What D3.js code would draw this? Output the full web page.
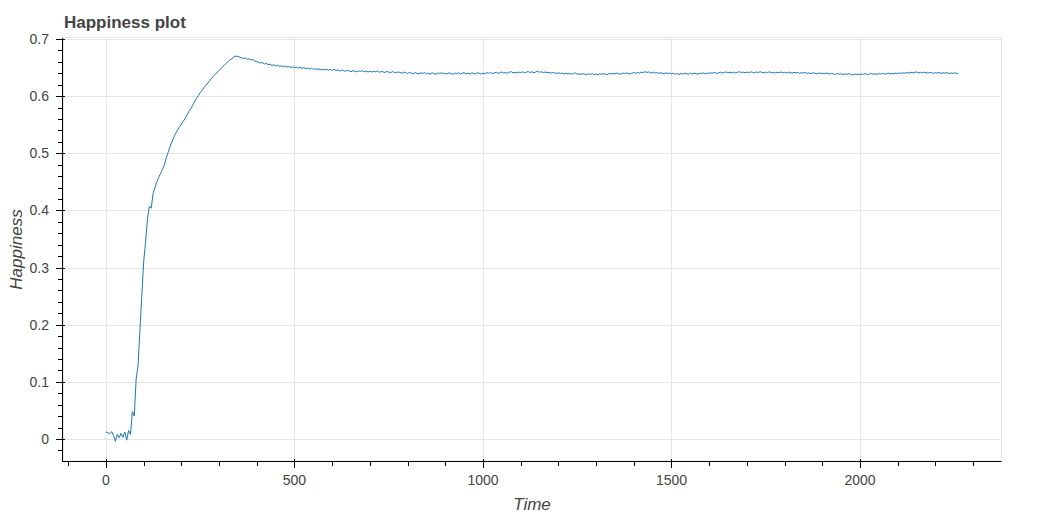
<!DOCTYPE html>
<html>
<head>
<meta charset="utf-8">
<script src="https://cdn.jsdelivr.net/npm/d3@7"></script>
<style>
  html, body { margin: 0; padding: 0; background: #fff; }
  svg { display: block; font-family: "Liberation Sans", Arial, Helvetica, sans-serif; }
</style>
</head>
<body>
<svg id="chart" width="1039" height="519"></svg>
<script>
// ---- data ----
const title = "Happiness plot";
const xLabel = "Time";
const yLabel = "Happiness";
const timeStart = 0;
const timeStep = 5;
const happiness = [
  0.012, 0.011, 0.009, 0.013, 0.006, -0.004, 0.008, 0.002, 0.010, 0.003, 0.012, -0.002, 0.015, 0.008, 0.048, 0.040, 0.105, 0.128, 0.190, 0.250,
  0.310, 0.345, 0.385, 0.407, 0.404, 0.430, 0.440, 0.450, 0.458, 0.465, 0.472, 0.480, 0.492, 0.502, 0.512, 0.520, 0.528, 0.535, 0.541, 0.546,
  0.551, 0.556, 0.561, 0.567, 0.573, 0.578, 0.584, 0.590, 0.596, 0.601, 0.606, 0.610, 0.615, 0.619, 0.623, 0.627, 0.631, 0.635, 0.638, 0.642,
  0.645, 0.648, 0.652, 0.655, 0.658, 0.661, 0.664, 0.666, 0.669, 0.670, 0.6695, 0.6680, 0.6672, 0.6660, 0.6668, 0.6645, 0.6652, 0.6633, 0.6640, 0.6615,
  0.6605, 0.6592, 0.6580, 0.6588, 0.6562, 0.6574, 0.6551, 0.6560, 0.6538, 0.6549, 0.6530, 0.6541, 0.6522, 0.6530, 0.6515, 0.6527, 0.6508, 0.6519, 0.6502, 0.6512,
  0.6498, 0.6510, 0.6492, 0.6503, 0.6485, 0.6497, 0.6480, 0.6491, 0.6474, 0.6487, 0.6470, 0.6482, 0.6466, 0.6478, 0.6460, 0.6473, 0.6458, 0.6469, 0.6455, 0.6466,
  0.6452, 0.6468, 0.6447, 0.6461, 0.6438, 0.6455, 0.6449, 0.6433, 0.6452, 0.6440, 0.6428, 0.6446, 0.6437, 0.6425, 0.6443, 0.6431, 0.6446, 0.6427, 0.6439, 0.6422,
  0.6438, 0.6421, 0.6435, 0.6427, 0.6442, 0.6418, 0.6432, 0.6424, 0.6415, 0.6433, 0.6420, 0.6411, 0.6429, 0.6417, 0.6408, 0.6425, 0.6413, 0.6402, 0.6421, 0.6410,
  0.6398, 0.6417, 0.6403, 0.6392, 0.6412, 0.6400, 0.6388, 0.6409, 0.6396, 0.6414, 0.6390, 0.6402, 0.6385, 0.6408, 0.6396, 0.6383, 0.6405, 0.6393, 0.6411, 0.6389,
  0.6402, 0.6387, 0.6409, 0.6395, 0.6381, 0.6404, 0.6392, 0.6410, 0.6386, 0.6399, 0.6413, 0.6390, 0.6402, 0.6384, 0.6407, 0.6396, 0.6389, 0.6411, 0.6398, 0.6386,
  0.6403, 0.6391, 0.6412, 0.6400, 0.6417, 0.6395, 0.6408, 0.6420, 0.6399, 0.6411, 0.6424, 0.6405, 0.6416, 0.6401, 0.6419, 0.6428, 0.6407, 0.6418, 0.6404, 0.6421,
  0.6412, 0.6425, 0.6408, 0.6420, 0.6431, 0.6414, 0.6426, 0.6410, 0.6422, 0.6436, 0.6418, 0.6427, 0.6411, 0.6423, 0.6408, 0.6419, 0.6402, 0.6415, 0.6406, 0.6397,
  0.6410, 0.6394, 0.6405, 0.6389, 0.6401, 0.6386, 0.6398, 0.6383, 0.6395, 0.6407, 0.6381, 0.6392, 0.6378, 0.6396, 0.6384, 0.6375, 0.6391, 0.6380, 0.6394, 0.6377,
  0.6388, 0.6376, 0.6392, 0.6381, 0.6395, 0.6384, 0.6378, 0.6397, 0.6386, 0.6400, 0.6389, 0.6403, 0.6391, 0.6383, 0.6405, 0.6394, 0.6408, 0.6396, 0.6387, 0.6402,
  0.6411, 0.6398, 0.6415, 0.6405, 0.6421, 0.6409, 0.6430, 0.6414, 0.6424, 0.6407, 0.6418, 0.6403, 0.6415, 0.6398, 0.6411, 0.6400, 0.6393, 0.6409, 0.6397, 0.6405,
  0.6389, 0.6401, 0.6383, 0.6395, 0.6380, 0.6397, 0.6386, 0.6402, 0.6391, 0.6384, 0.6399, 0.6388, 0.6404, 0.6393, 0.6385, 0.6401, 0.6395, 0.6408, 0.6390, 0.6403,
  0.6398, 0.6410, 0.6402, 0.6415, 0.6396, 0.6408, 0.6419, 0.6404, 0.6413, 0.6425, 0.6407, 0.6418, 0.6411, 0.6422, 0.6405, 0.6417, 0.6428, 0.6412, 0.6420, 0.6409,
  0.6421, 0.6410, 0.6426, 0.6414, 0.6406, 0.6423, 0.6412, 0.6429, 0.6415, 0.6407, 0.6420, 0.6413, 0.6426, 0.6409, 0.6418, 0.6404, 0.6419, 0.6411, 0.6423, 0.6408,
  0.6417, 0.6405, 0.6421, 0.6410, 0.6402, 0.6418, 0.6407, 0.6414, 0.6399, 0.6411, 0.6403, 0.6416, 0.6398, 0.6407, 0.6394, 0.6409, 0.6400, 0.6389, 0.6405, 0.6396,
  0.6401, 0.6390, 0.6406, 0.6393, 0.6385, 0.6399, 0.6387, 0.6380, 0.6396, 0.6384, 0.6392, 0.6377, 0.6389, 0.6381, 0.6394, 0.6379, 0.6372, 0.6388, 0.6378, 0.6385,
  0.6374, 0.6389, 0.6381, 0.6393, 0.6378, 0.6386, 0.6397, 0.6383, 0.6391, 0.6379, 0.6395, 0.6387, 0.6399, 0.6384, 0.6393, 0.6402, 0.6388, 0.6397, 0.6391, 0.6404,
  0.6393, 0.6406, 0.6398, 0.6410, 0.6401, 0.6414, 0.6403, 0.6419, 0.6407, 0.6415, 0.6424, 0.6409, 0.6418, 0.6406, 0.6421, 0.6412, 0.6403, 0.6416, 0.6408, 0.6400,
  0.6412, 0.6404, 0.6415, 0.6398, 0.6409, 0.6401, 0.6413, 0.6397, 0.6406, 0.6395, 0.6408, 0.6399, 0.6402
];
const xTicks = [0, 500, 1000, 1500, 2000];
const yTicks = [0, 0.1, 0.2, 0.3, 0.4, 0.5, 0.6, 0.7];
const xDomain = [-114, 2374];
const yDomain = [-0.0385, 0.70175];

// ---- layout ----
const W = 1039, H = 519;
const plot = { left: 63, right: 1001, top: 38, bottom: 461 };
const svg = d3.select("#chart");

const data = happiness.map((v, i) => ({ t: timeStart + i * timeStep, v }));

const x = d3.scaleLinear().domain(xDomain).range([plot.left, plot.right]);
const y = d3.scaleLinear().domain(yDomain).range([plot.bottom, plot.top]);

const grid = "#e5e5e5";
// grid lines
svg.append("g").selectAll("line").data(xTicks).join("line")
  .attr("x1", d => Math.round(x(d)) + 0.5).attr("x2", d => Math.round(x(d)) + 0.5)
  .attr("y1", plot.top).attr("y2", plot.bottom)
  .attr("stroke", grid).attr("stroke-width", 1);
svg.append("g").selectAll("line").data(yTicks).join("line")
  .attr("y1", d => Math.round(y(d)) + 0.5).attr("y2", d => Math.round(y(d)) + 0.5)
  .attr("x1", plot.left).attr("x2", plot.right)
  .attr("stroke", grid).attr("stroke-width", 1);
// outline
svg.append("rect")
  .attr("x", plot.left + 0.5).attr("y", plot.top - 0.5)
  .attr("width", plot.right - plot.left).attr("height", plot.bottom - plot.top + 0.5)
  .attr("fill", "none").attr("stroke", grid);

// line
svg.append("path")
  .datum(data)
  .attr("fill", "none")
  .attr("stroke", "#1f77b4")
  .attr("stroke-width", 1)
  .attr("d", d3.line().x(d => x(d.t)).y(d => y(d.v)));

// axes
const minorX = d3.range(-100, 2374, 100).filter(d => d % 500 !== 0);
const minorY = d3.range(-0.02, 0.70, 0.02).map(d => +d.toFixed(2)).filter(d => Math.abs(d * 10 - Math.round(d * 10)) > 1e-6);

const axisColor = "#000";
const gx = svg.append("g").attr("transform", `translate(0,${plot.bottom})`);
gx.append("line").attr("x1", plot.left).attr("x2", plot.right + 0.5).attr("y1", 0.5).attr("y2", 0.5).attr("stroke", axisColor);
gx.selectAll(".maj").data(xTicks).join("line").attr("class", "maj")
  .attr("x1", d => Math.round(x(d)) + 0.5).attr("x2", d => Math.round(x(d)) + 0.5)
  .attr("y1", -2).attr("y2", 7).attr("stroke", axisColor);
gx.selectAll(".min").data(minorX).join("line").attr("class", "min")
  .attr("x1", d => Math.round(x(d)) + 0.5).attr("x2", d => Math.round(x(d)) + 0.5)
  .attr("y1", 0).attr("y2", 5).attr("stroke", axisColor);
gx.selectAll("text").data(xTicks).join("text")
  .attr("x", d => x(d)).attr("y", 18.5)
  .attr("text-anchor", "middle").attr("dominant-baseline", "central")
  .attr("font-size", 14).attr("fill", "#444")
  .text(d => d3.format("d")(d));

const gy = svg.append("g").attr("transform", `translate(${plot.left},0)`);
gy.append("line").attr("y1", plot.top).attr("y2", plot.bottom + 1).attr("x1", -0.5).attr("x2", -0.5).attr("stroke", axisColor);
gy.selectAll(".maj").data(yTicks).join("line").attr("class", "maj")
  .attr("y1", d => Math.round(y(d)) + 0.5).attr("y2", d => Math.round(y(d)) + 0.5)
  .attr("x1", -7).attr("x2", 2).attr("stroke", axisColor);
gy.selectAll(".min").data(minorY).join("line").attr("class", "min")
  .attr("y1", d => Math.round(y(d)) + 0.5).attr("y2", d => Math.round(y(d)) + 0.5)
  .attr("x1", -5).attr("x2", 0).attr("stroke", axisColor);
gy.selectAll("text").data(yTicks).join("text")
  .attr("x", -14).attr("y", d => y(d))
  .attr("text-anchor", "end").attr("dominant-baseline", "central")
  .attr("font-size", 14).attr("fill", "#444")
  .text(d => d === 0 ? "0" : d3.format(".1f")(d));

// labels
svg.append("text").attr("x", 64).attr("y", 28)
  .attr("font-size", 17).attr("font-weight", "bold").attr("fill", "#444")
  .text(title);
svg.append("text").attr("x", (plot.left + plot.right) / 2).attr("y", 504)
  .attr("text-anchor", "middle").attr("dominant-baseline", "central")
  .attr("font-size", 17).attr("font-style", "italic").attr("fill", "#444")
  .text(xLabel);
svg.append("text")
  .attr("transform", `translate(16,${(plot.top + plot.bottom) / 2}) rotate(-90)`)
  .attr("text-anchor", "middle").attr("dominant-baseline", "central")
  .attr("font-size", 17).attr("font-style", "italic").attr("fill", "#444")
  .text(yLabel);
</script>
</body>
</html>
